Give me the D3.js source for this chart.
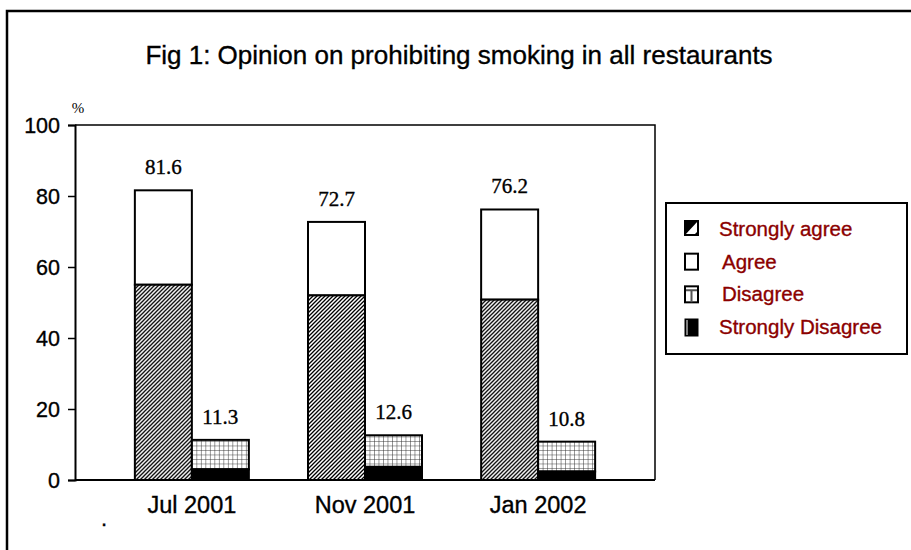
<!DOCTYPE html>
<html>
<head>
<meta charset="utf-8">
<script src="https://cdn.jsdelivr.net/npm/d3@7"></script>
<style>
  body { margin: 0; background: #fff; }
  svg { display: block; }
  text { font-family: Arial, "Liberation Sans", sans-serif; stroke: currentColor; stroke-width: 0.35px; }
  .serif { font-family: "Times New Roman", "Liberation Serif", serif; }
</style>
</head>
<body>
<svg id="chart" width="911" height="550"></svg>
<script>
// data
const categories = ['Jul 2001', 'Nov 2001', 'Jan 2002']
const stronglyAgree = [55.0, 52.0, 50.8]
const agreeTotal = [81.6, 72.7, 76.2]
const disagreeTotal = [11.3, 12.6, 10.8]
const stronglyDisagree = [3.0, 3.7, 2.4]
const yTicks = [0, 20, 40, 60, 80, 100]
const legendItems = ['Strongly agree', 'Agree', 'Disagree', 'Strongly Disagree']

const svg = d3.select('#chart').style('color', '#000')

// patterns
const defs = svg.append('defs')
const hatch = defs.append('pattern')
  .attr('id', 'hatch')
  .attr('patternUnits', 'userSpaceOnUse')
  .attr('width', 4).attr('height', 4)
hatch.append('rect').attr('width', 4).attr('height', 4).attr('fill', '#fff')
hatch.append('path')
  .attr('d', 'M-1,1 l2,-2 M0,4 l4,-4 M3,5 l2,-2')
  .attr('stroke', '#000').attr('stroke-width', 1.3)

const grid = defs.append('pattern')
  .attr('id', 'grid')
  .attr('patternUnits', 'userSpaceOnUse')
  .attr('width', 4.5).attr('height', 4.5)
grid.append('rect').attr('width', 4.5).attr('height', 4.5).attr('fill', '#fff')
grid.append('path')
  .attr('d', 'M0,0 H4.5 M0,0 V4.5')
  .attr('stroke', '#333').attr('stroke-width', 1)

// outer frame runs off the right and bottom
svg.append('rect')
  .attr('x', 7).attr('y', 11)
  .attr('width', 920).attr('height', 560)
  .attr('fill', 'none').attr('stroke', '#000').attr('stroke-width', 2.5)

svg.append('text')
  .attr('x', 459).attr('y', 64)
  .attr('text-anchor', 'middle').attr('font-size', 26)
  .text('Fig 1: Opinion on prohibiting smoking in all restaurants')

const plot = { left: 75, right: 655, top: 125, bottom: 480 }

const y = d3.scaleLinear().domain([0, 100]).range([plot.bottom, plot.top])
const x = d3.scalePoint().domain(categories).range([plot.left, plot.right]).padding(0.675)
const sub = d3.scaleBand().domain(['agree', 'disagree']).range([-57, 57])

// plot box
svg.append('path')
  .attr('d', `M${plot.left},${plot.top} H${plot.right} V${plot.bottom}`)
  .attr('fill', 'none').attr('stroke', '#000').attr('stroke-width', 1.5)

// bars
const groups = svg.append('g').selectAll('g')
  .data(categories)
  .join('g')
  .attr('transform', (d) => `translate(${x(d)},0)`)

groups.append('rect')
  .attr('x', sub('agree')).attr('width', sub.bandwidth())
  .attr('y', (d, i) => y(agreeTotal[i]))
  .attr('height', (d, i) => y(stronglyAgree[i]) - y(agreeTotal[i]))
  .attr('fill', '#fff').attr('stroke', '#000').attr('stroke-width', 2)

groups.append('rect')
  .attr('x', sub('agree')).attr('width', sub.bandwidth())
  .attr('y', (d, i) => y(stronglyAgree[i]))
  .attr('height', (d, i) => y(0) - y(stronglyAgree[i]))
  .attr('fill', 'url(#hatch)').attr('stroke', '#000').attr('stroke-width', 2)

groups.append('rect')
  .attr('x', sub('disagree')).attr('width', sub.bandwidth())
  .attr('y', (d, i) => y(disagreeTotal[i]))
  .attr('height', (d, i) => y(stronglyDisagree[i]) - y(disagreeTotal[i]))
  .attr('fill', 'url(#grid)').attr('stroke', '#000').attr('stroke-width', 2)

groups.append('rect')
  .attr('x', sub('disagree')).attr('width', sub.bandwidth())
  .attr('y', (d, i) => y(stronglyDisagree[i]))
  .attr('height', (d, i) => y(0) - y(stronglyDisagree[i]))
  .attr('fill', '#000').attr('stroke', '#000').attr('stroke-width', 2)

// value labels
groups.append('text')
  .attr('class', 'serif')
  .attr('text-anchor', 'middle').attr('font-size', 21)
  .attr('x', sub('agree') + sub.bandwidth() / 2)
  .attr('y', (d, i) => y(agreeTotal[i]) - 16)
  .text((d, i) => agreeTotal[i].toFixed(1))

groups.append('text')
  .attr('class', 'serif')
  .attr('text-anchor', 'middle').attr('font-size', 21)
  .attr('x', sub('disagree') + sub.bandwidth() / 2)
  .attr('y', (d, i) => y(disagreeTotal[i]) - 16)
  .text((d, i) => disagreeTotal[i].toFixed(1))

// y axis
const yAxis = svg.append('g')
  .attr('transform', `translate(${plot.left},0)`)
  .call(d3.axisLeft(y).tickValues(yTicks).tickSize(7).tickPadding(8))
yAxis.attr('font-size', 21.5).attr('font-family', 'Arial, "Liberation Sans", sans-serif')
yAxis.select('.domain').attr('stroke-width', 2)
yAxis.selectAll('.tick line').attr('stroke-width', 1.5)
yAxis.selectAll('.tick text').attr('fill', '#000').attr('dy', '0.36em')

svg.append('text')
  .attr('class', 'serif')
  .attr('x', 78).attr('y', 113)
  .attr('text-anchor', 'middle').attr('font-size', 15)
  .style('stroke-width', 0)
  .text('%')

// x axis
svg.append('line')
  .attr('x1', plot.left).attr('x2', plot.right)
  .attr('y1', plot.bottom).attr('y2', plot.bottom)
  .attr('stroke', '#000').attr('stroke-width', 2)

svg.append('g').selectAll('text')
  .data(categories)
  .join('text')
  .attr('x', (d) => x(d)).attr('y', 513)
  .attr('text-anchor', 'middle').attr('font-size', 23.5)
  .text((d) => d)

svg.append('text').attr('x', 101).attr('y', 526).attr('font-size', 22).text('.')

// legend
const legend = svg.append('g').attr('transform', 'translate(666,203)')
legend.append('rect')
  .attr('width', 241).attr('height', 151)
  .attr('fill', '#fff').attr('stroke', '#000').attr('stroke-width', 2)

const legendY = d3.scalePoint().domain(legendItems).range([26, 124])
const rows = legend.selectAll('g.row')
  .data(legendItems)
  .join('g')
  .attr('class', 'row')
  .attr('transform', (d) => `translate(19,${legendY(d)})`)

rows.each(function (d, i) {
  const r = d3.select(this)
  if (i === 0) {
    r.append('rect').attr('x', 0).attr('y', -8).attr('width', 13).attr('height', 14)
      .attr('fill', '#fff').attr('stroke', '#000').attr('stroke-width', 2)
    r.append('path').attr('d', 'M0,-8 H13 L0,6 Z').attr('fill', '#000')
    r.append('path').attr('d', 'M13,2 V6 H9 Z').attr('fill', '#000')
  } else if (i === 1) {
    r.append('rect').attr('x', 0).attr('y', -8).attr('width', 13).attr('height', 16)
      .attr('fill', '#fff').attr('stroke', '#000').attr('stroke-width', 2)
  } else if (i === 2) {
    r.append('rect').attr('x', 0).attr('y', -8).attr('width', 13).attr('height', 16)
      .attr('fill', '#fff').attr('stroke', '#000').attr('stroke-width', 2)
    r.append('path').attr('d', 'M1,-4 H12 M6.5,-4 V8').attr('stroke', '#555').attr('stroke-width', 2)
  } else {
    r.append('rect').attr('x', 0).attr('y', -8).attr('width', 13).attr('height', 17)
      .attr('fill', '#000').attr('stroke', '#000').attr('stroke-width', 1)
    r.append('line').attr('x1', 2).attr('x2', 2).attr('y1', -7).attr('y2', 8)
      .attr('stroke', '#fff').attr('stroke-width', 1)
  }
  r.append('text')
    .attr('x', i === 0 || i === 3 ? 34 : 37).attr('y', 7)
    .attr('font-size', 20.5).attr('fill', '#8b0000')
    .style('color', '#8b0000')
    .text(d)
})
</script>
</body>
</html>
